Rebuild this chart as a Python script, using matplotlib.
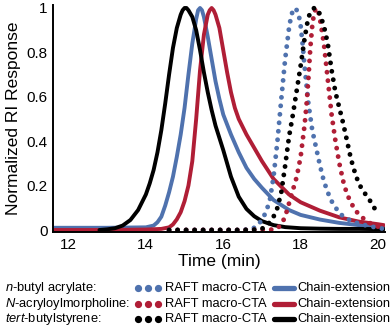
import matplotlib
matplotlib.use("Agg")
import matplotlib.pyplot as plt
from matplotlib.lines import Line2D

plt.rcParams['font.family'] = ['Liberation Sans', 'DejaVu Sans']
plt.rcParams['mathtext.fontset'] = 'custom'
plt.rcParams['mathtext.rm'] = 'Liberation Sans'
plt.rcParams['mathtext.it'] = 'Liberation Sans:italic'

# chain-extension traces (solid)
t_nba_ext = [11.6, 13.0, 14.0, 14.2, 14.3, 14.4, 14.5, 14.6, 14.7, 14.8, 14.9, 15.0, 15.1, 15.2,
             15.3, 15.35, 15.4, 15.45, 15.5, 15.6, 15.7, 15.8, 15.9, 16.0, 16.2, 16.4, 16.6, 16.8,
             17.0, 17.3, 17.7, 18.0, 18.5, 19.0, 19.5, 20.0, 20.15]
v_nba_ext = [0.01, 0.01, 0.012, 0.02, 0.035, 0.06, 0.11, 0.17, 0.24, 0.33, 0.43, 0.55, 0.70, 0.84,
             0.95, 0.99, 1.0, 0.99, 0.96, 0.87, 0.77, 0.67, 0.59, 0.52, 0.43, 0.35, 0.28, 0.23,
             0.19, 0.135, 0.09, 0.068, 0.047, 0.032, 0.022, 0.014, 0.012]

t_nam_ext = [11.6, 13.0, 14.0, 14.4, 14.6, 14.7, 14.8, 14.9, 15.0, 15.1, 15.2, 15.3, 15.4, 15.5,
             15.6, 15.65, 15.7, 15.75, 15.8, 15.9, 16.0, 16.1, 16.2, 16.3, 16.4, 16.6, 16.8, 17.0,
             17.3, 17.7, 18.0, 18.5, 19.0, 19.5, 20.0, 20.15]
v_nam_ext = [0.0, 0.0, 0.002, 0.005, 0.012, 0.025, 0.048, 0.08, 0.13, 0.20, 0.31, 0.50, 0.72, 0.88,
             0.97, 0.99, 1.0, 0.99, 0.97, 0.91, 0.81, 0.71, 0.62, 0.55, 0.50, 0.43, 0.37, 0.31,
             0.23, 0.16, 0.125, 0.087, 0.057, 0.038, 0.026, 0.022]

t_tbs_ext = [12.8, 13.0, 13.2, 13.4, 13.6, 13.8, 14.0, 14.1, 14.2, 14.3, 14.4, 14.5, 14.6, 14.7,
             14.8, 14.9, 14.95, 15.0, 15.05, 15.1, 15.2, 15.3, 15.4, 15.5, 15.6, 15.7, 15.8, 16.0,
             16.2, 16.4, 16.6, 16.8, 17.0, 17.3, 17.6, 18.0, 18.5, 19.0, 19.5, 20.0, 20.15]
v_tbs_ext = [0.0, 0.003, 0.008, 0.02, 0.045, 0.09, 0.16, 0.21, 0.27, 0.35, 0.45, 0.57, 0.70, 0.82,
             0.91, 0.97, 0.99, 1.0, 1.0, 0.99, 0.96, 0.90, 0.81, 0.71, 0.62, 0.54, 0.47, 0.36,
             0.24, 0.15, 0.095, 0.062, 0.04, 0.022, 0.013, 0.008, 0.006, 0.005, 0.005, 0.004, 0.004]

# RAFT macro-CTA traces (dotted)
t_nba_cta = [14.6, 15.5, 16.5, 16.7, 16.8, 16.9, 17.0, 17.1, 17.2, 17.3, 17.4, 17.5, 17.6, 17.7,
             17.75, 17.8, 17.85, 17.9, 17.95, 18.0, 18.05, 18.1, 18.2, 18.3, 18.4, 18.5, 18.6,
             18.7, 18.8, 19.0, 19.2, 19.4, 19.7, 20.0, 20.15]
v_nba_cta = [0, 0, 0, 0.004, 0.01, 0.025, 0.045, 0.08, 0.13, 0.24, 0.40, 0.59, 0.77, 0.91,
             0.96, 0.99, 1.0, 0.99, 0.97, 0.92, 0.84, 0.74, 0.57, 0.45, 0.37, 0.29, 0.22,
             0.17, 0.13, 0.075, 0.05, 0.035, 0.02, 0.01, 0.005]

t_nam_cta = [14.6, 15.5, 16.5, 17.3, 17.4, 17.5, 17.6, 17.7, 17.8, 17.9, 18.0, 18.05, 18.1, 18.15,
             18.2, 18.25, 18.3, 18.35, 18.4, 18.45, 18.5, 18.6, 18.7, 18.8, 18.9, 19.0, 19.1, 19.2,
             19.4, 19.6, 19.8, 20.0, 20.13]
v_nam_cta = [0, 0, 0, 0.002, 0.008, 0.025, 0.06, 0.12, 0.18, 0.24, 0.33, 0.40, 0.47, 0.56,
             0.68, 0.82, 0.92, 0.98, 1.0, 0.99, 0.95, 0.84, 0.68, 0.52, 0.40, 0.30, 0.22, 0.16,
             0.09, 0.055, 0.03, 0.015, 0.005]

t_tbs_cta = [14.6, 15.5, 16.5, 16.9, 17.0, 17.1, 17.2, 17.3, 17.4, 17.5, 17.6, 17.7, 17.8, 17.9,
             18.0, 18.1, 18.2, 18.3, 18.35, 18.4, 18.45, 18.5, 18.6, 18.7, 18.8, 18.9, 19.0, 19.1,
             19.2, 19.3, 19.4, 19.5, 19.6, 19.7, 19.8, 19.9, 20.0, 20.05]
v_tbs_cta = [0, 0, 0, 0.002, 0.006, 0.015, 0.035, 0.06, 0.10, 0.17, 0.29, 0.42, 0.52, 0.63,
             0.74, 0.86, 0.96, 0.99, 1.0, 1.0, 0.99, 0.97, 0.92, 0.84, 0.72, 0.62, 0.55, 0.48,
             0.40, 0.32, 0.26, 0.21, 0.18, 0.155, 0.13, 0.10, 0.08, 0.07]

monomers = ['$\\mathit{n}$-butyl acrylate:', '$\\mathit{N}$-acryloylmorpholine:',
            '$\\mathit{tert}$-butylstyrene:']
blue = '#4f72ae'
red = '#b01e36'
black = '#000000'
colors = [blue, red, black]

xticks = [12, 14, 16, 18, 20]
yticks = [0, 0.2, 0.4, 0.6, 0.8, 1]
ytick_labels = ['0', '0.2', '0.4', '0.6', '0.8', '1']

W, H = 392, 328
fig = plt.figure(figsize=(W / 100, H / 100), dpi=100)
ax = fig.add_axes([53 / W, 1 - 232 / H, 332 / W, 227 / H])

dots = (0, (0.001, 1.75))
solid_kw = dict(lw=2.8, solid_capstyle='round', solid_joinstyle='round')
dot_kw = dict(lw=3.5, linestyle=dots, dash_capstyle='round')

ax.plot(t_nba_ext, v_nba_ext, color=blue, **solid_kw)
ax.plot(t_nam_ext, v_nam_ext, color=red, **solid_kw)
ax.plot(t_tbs_ext, v_tbs_ext, color=black, **solid_kw)
ax.plot(t_nba_cta, v_nba_cta, color=blue, **dot_kw)
ax.plot(t_nam_cta, v_nam_cta, color=red, **dot_kw)
ax.plot(t_tbs_cta, v_tbs_cta, color=black, **dot_kw)

ax.set_xlim(11.6, 20.18)
ax.set_ylim(-0.009, 1.0135)
ax.set_xticks(xticks)
ax.set_yticks(yticks)
ax.set_yticklabels(ytick_labels)
ax.tick_params(length=0, labelsize=11, pad=4)
for s in ['top', 'right']:
    ax.spines[s].set_visible(False)
for s in ['left', 'bottom']:
    ax.spines[s].set_linewidth(1.4)
ax.set_xlabel('Time (min)', fontsize=12.5, labelpad=2)
ax.set_ylabel('Normalized RI Response', fontsize=12.5, labelpad=4)

# custom legend block
rows_y = [288, 304, 319]
for y, name, c in zip(rows_y, monomers, colors):
    fy = 1 - y / H
    fig.text(5 / W, fy, name, fontsize=9.3, va='center', ha='left')
    fig.add_artist(Line2D([x / W for x in (138, 148, 158)], [fy] * 3, color=c,
                          marker='o', markersize=4.2, linestyle='none'))
    fig.text(165 / W, fy, 'RAFT macro-CTA', fontsize=9.3, va='center', ha='left')
    fig.add_artist(Line2D([274 / W, 294 / W], [fy, fy], color=c, lw=3.8,
                          solid_capstyle='round'))
    fig.text(297 / W, fy, 'Chain-extension', fontsize=9.3, va='center', ha='left')

fig.savefig('out.png', dpi=100)
